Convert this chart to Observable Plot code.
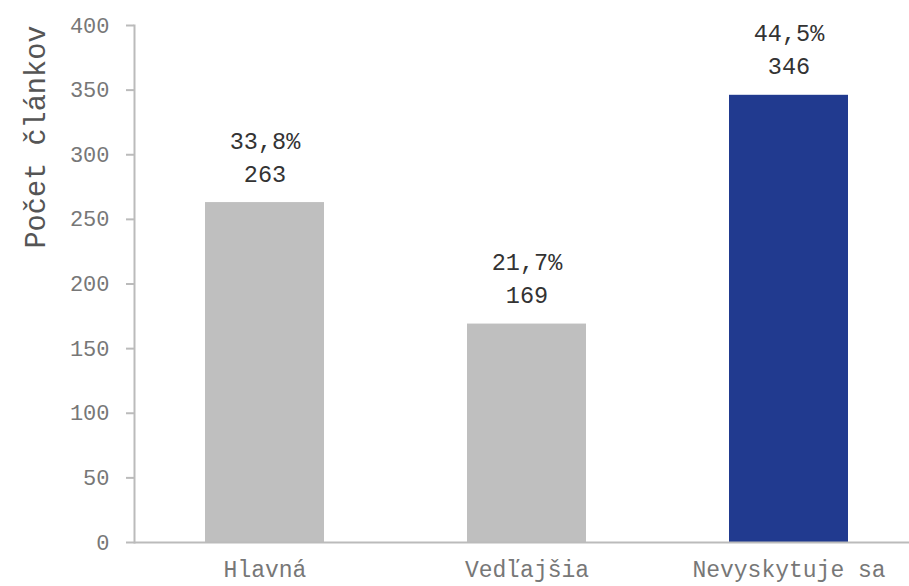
<!DOCTYPE html>
<html><head><meta charset="utf-8">
<script src="https://cdn.jsdelivr.net/npm/d3@7"></script>
<script src="https://cdn.jsdelivr.net/npm/@observablehq/plot@0.6"></script>
<style>
body{margin:0;background:#fff}
svg{font-family:"Liberation Mono",monospace}
</style>
</head><body><div id="chart"></div>
<script>
const categories = ["Hlavná", "Vedľajšia", "Nevyskytuje sa"];
const counts = [263, 169, 346];
const shares = ["33,8%", "21,7%", "44,5%"];
const barColors = ["#bfbfbf", "#bfbfbf", "#213a8f"];
const yTicks = [0, 50, 100, 150, 200, 250, 300, 350, 400];
const yLabel = "Počet článkov";

const data = categories.map((c, i) => ({category: c, count: counts[i], share: shares[i]}));

const chart = Plot.plot({
  width: 909, height: 586,
  marginLeft: 134, marginRight: 0, marginTop: 25, marginBottom: 44,
  style: {fontFamily: "Liberation Mono, monospace", fontSize: "22px", background: "#fff"},
  x: {domain: categories, paddingInner: 0.546, paddingOuter: 0.252, align: 0.538, label: null},
  y: {domain: [0, 400], label: null},
  color: {domain: categories, range: barColors},
  marks: [
    Plot.axisY({ticks: yTicks, tickSize: 8, tickPadding: 17, stroke: "#bbb", strokeWidth: 2, fill: "#777", fontSize: 22, label: null}),
    Plot.axisX({tickSize: 0, tickPadding: 18, fill: "#777", fontSize: 23, label: null}),
    Plot.barY(data, {x: "category", y: "count", fill: "category"}),
    Plot.ruleY([0], {stroke: "#bbb", strokeWidth: 2}),
    Plot.frame({anchor: "left", stroke: "#bbb", strokeWidth: 2}),
    Plot.text(data, {x: "category", y: "count", text: d => d.share + "\n" + d.count, dy: -21, lineAnchor: "bottom", lineHeight: 1.4, fill: "#333", fontSize: 23.5}),
    Plot.text([yLabel], {frameAnchor: "top-left", rotate: -90, textAnchor: "end", dx: -110, fontSize: 28.6, fill: "#555"})
  ]
});
document.getElementById("chart").appendChild(chart);
</script>
</body></html>
